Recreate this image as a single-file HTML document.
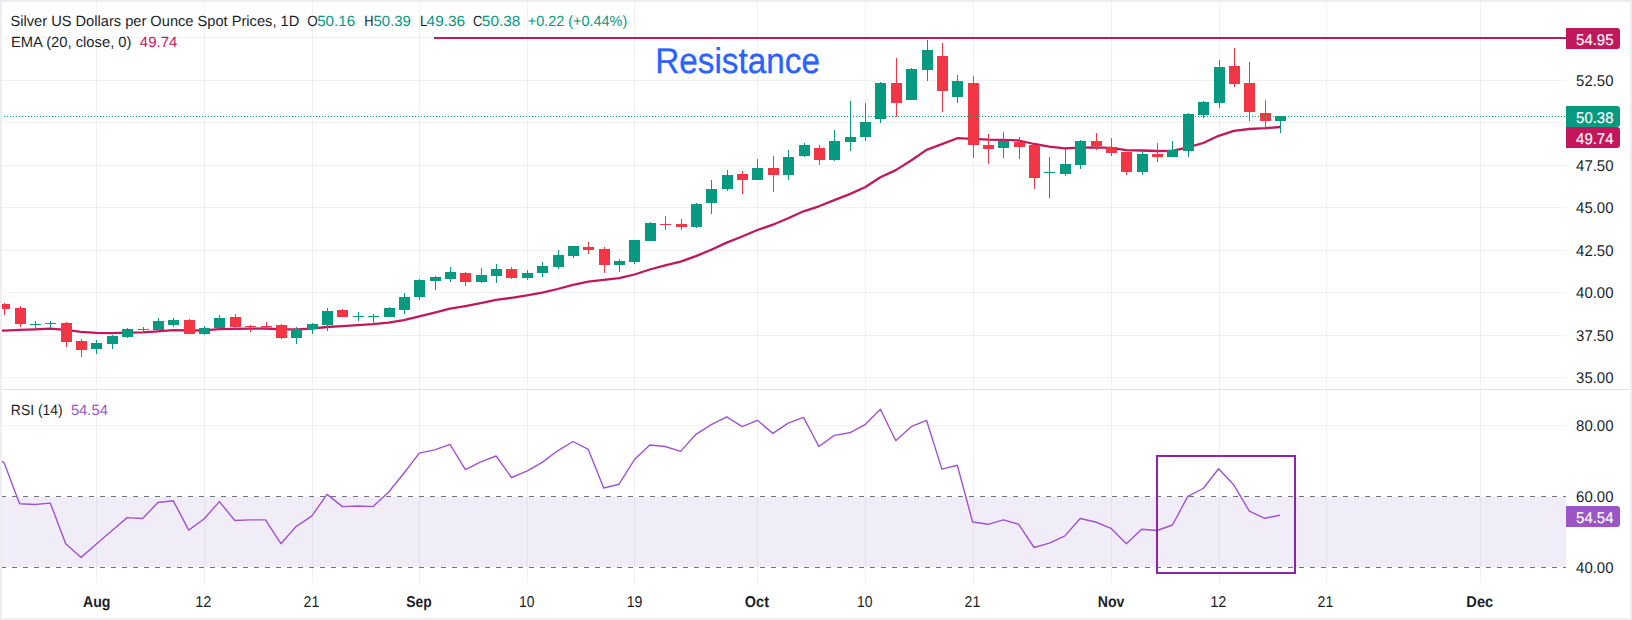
<!DOCTYPE html><html><head><meta charset="utf-8"><style>html,body{margin:0;padding:0;width:1632px;height:620px;overflow:hidden;background:#fff}svg{display:block}text{font-family:"Liberation Sans",sans-serif;text-rendering:geometricPrecision}</style></head><body>
<svg width="1632" height="620" viewBox="0 0 1632 620">
<rect x="0" y="0" width="1632" height="620" fill="#fff"/>
<rect x="2" y="497" width="1564" height="70" fill="rgba(126,87,194,0.11)"/>
<path d="M96.5 2V389M96.5 390V583M204.5 2V389M204.5 390V583M312.5 2V389M312.5 390V583M419.5 2V389M419.5 390V583M527.5 2V389M527.5 390V583M634.5 2V389M634.5 390V583M757.5 2V389M757.5 390V583M865.5 2V389M865.5 390V583M973.5 2V389M973.5 390V583M1111.5 2V389M1111.5 390V583M1219.5 2V389M1219.5 390V583M1326.5 2V389M1326.5 390V583M1480.5 2V389M1480.5 390V583" stroke="rgba(20,60,50,0.063)" stroke-width="1" fill="none"/>
<path d="M2 37.5H1566M2 80.5H1566M2 122.5H1566M2 165.5H1566M2 207.5H1566M2 250.5H1566M2 292.5H1566M2 335.5H1566M2 377.5H1566M2 425.5H1566" stroke="rgba(20,60,50,0.063)" stroke-width="1" fill="none"/>
<path d="M1 496.5H1566M1 567.5H1566" stroke="#70737E" stroke-width="1" stroke-dasharray="5 6" fill="none"/>
<rect x="0" y="389" width="1632" height="1" fill="#E0E3EB"/>
<polyline points="-11,330.9 4.2,330.6 19.6,329.9 35.0,329.3 50.3,328.7 65.7,329.9 81.1,331.8 96.4,332.8 111.8,333.1 127.2,332.7 142.6,332.4 157.9,331.3 173.3,330.2 188.7,330.5 204.0,330.3 219.4,329.1 234.8,328.9 250.2,328.6 265.5,328.5 280.9,329.3 296.3,329.3 311.7,328.7 327.0,327.0 342.4,326.1 357.8,325.1 373.1,324.2 388.5,322.6 403.9,320.2 419.3,316.3 434.6,312.6 450.0,308.7 465.4,306.1 480.7,303.2 496.1,299.9 511.5,297.8 526.9,295.4 542.2,292.6 557.6,289.0 573.0,284.9 588.3,281.6 603.7,279.9 619.1,278.1 634.5,274.5 649.8,269.5 665.2,265.3 680.6,261.6 695.9,256.1 711.3,249.7 726.7,242.6 742.1,236.5 757.4,230.0 772.8,224.7 788.2,218.3 803.5,211.3 818.9,206.3 834.3,200.1 849.7,194.1 865.0,187.2 880.4,177.2 895.8,170.1 911.1,160.5 926.5,149.9 941.9,144.2 957.3,138.2 972.6,138.8 988.0,139.7 1003.4,139.8 1018.7,140.5 1034.1,144.0 1049.5,146.7 1064.9,148.3 1080.2,147.6 1095.6,147.4 1111.0,147.9 1126.3,150.1 1141.7,150.5 1157.1,151.0 1172.5,150.9 1187.8,147.4 1203.2,143.0 1218.6,135.8 1233.9,130.8 1249.3,129.0 1264.7,128.2 1280.1,127.0" stroke="#C2185B" stroke-width="2.3" fill="none" stroke-linejoin="round"/>
<path d="M30 324h11v1h-11zM35 321h1v3h-1zM35 325h1v3h-1zM45 323h11v1h-11zM50 321h1v2h-1zM50 324h1v4h-1zM91 343h11v6h-11zM96 340h1v3h-1zM96 349h1v5h-1zM107 336h11v8h-11zM112 335h1v1h-1zM112 344h1v5h-1zM122 329h11v8h-11zM127 328h1v1h-1zM127 337h1v1h-1zM153 321h11v9h-11zM158 318h1v3h-1zM168 320h11v5h-11zM173 318h1v2h-1zM173 325h1v2h-1zM199 328h11v6h-11zM204 326h1v2h-1zM204 334h1v1h-1zM214 318h11v10h-11zM219 315h1v3h-1zM219 328h1v1h-1zM291 329h11v9h-11zM296 327h1v2h-1zM296 338h1v6h-1zM307 324h11v5h-11zM312 323h1v1h-1zM312 329h1v5h-1zM322 311h11v14h-11zM327 308h1v3h-1zM327 325h1v6h-1zM353 316h11v1h-11zM358 312h1v4h-1zM358 317h1v4h-1zM368 316h11v1h-11zM373 314h1v2h-1zM373 317h1v8h-1zM384 308h11v9h-11zM389 307h1v1h-1zM399 297h11v13h-11zM404 293h1v4h-1zM404 310h1v4h-1zM414 280h11v17h-11zM419 279h1v1h-1zM419 297h1v3h-1zM430 277h11v4h-11zM435 276h1v1h-1zM435 281h1v9h-1zM445 272h11v7h-11zM450 267h1v5h-1zM450 279h1v3h-1zM476 275h11v7h-11zM481 268h1v7h-1zM481 282h1v1h-1zM491 269h11v7h-11zM496 264h1v5h-1zM496 276h1v7h-1zM522 273h11v5h-11zM527 270h1v3h-1zM527 278h1v2h-1zM537 266h11v7h-11zM542 262h1v4h-1zM542 273h1v4h-1zM553 255h11v12h-11zM558 250h1v5h-1zM558 267h1v2h-1zM568 246h11v10h-11zM573 256h1v2h-1zM614 261h11v4h-11zM619 259h1v2h-1zM619 265h1v7h-1zM629 240h11v22h-11zM634 262h1v2h-1zM645 223h11v18h-11zM650 222h1v1h-1zM691 204h11v23h-11zM696 203h1v1h-1zM696 227h1v1h-1zM706 189h11v14h-11zM711 180h1v9h-1zM711 203h1v11h-1zM722 175h11v14h-11zM727 170h1v5h-1zM727 189h1v2h-1zM752 168h11v12h-11zM757 159h1v9h-1zM783 157h11v18h-11zM788 150h1v7h-1zM788 175h1v5h-1zM799 145h11v11h-11zM804 143h1v2h-1zM804 156h1v1h-1zM829 141h11v19h-11zM834 130h1v11h-1zM834 160h1v1h-1zM845 137h11v5h-11zM850 101h1v36h-1zM850 142h1v9h-1zM860 122h11v15h-11zM865 103h1v19h-1zM865 137h1v4h-1zM875 83h11v36h-11zM880 82h1v1h-1zM880 119h1v4h-1zM906 69h11v31h-11zM911 68h1v1h-1zM922 50h11v20h-11zM927 40h1v10h-1zM927 70h1v11h-1zM952 81h11v16h-11zM957 75h1v6h-1zM957 97h1v6h-1zM998 141h11v7h-11zM1003 132h1v9h-1zM1003 148h1v10h-1zM1044 172h11v1h-11zM1049 157h1v15h-1zM1049 173h1v25h-1zM1060 164h11v10h-11zM1065 149h1v15h-1zM1065 174h1v2h-1zM1075 141h11v24h-11zM1080 140h1v1h-1zM1080 165h1v4h-1zM1137 154h11v18h-11zM1142 152h1v2h-1zM1142 172h1v3h-1zM1167 150h11v7h-11zM1172 141h1v9h-1zM1183 114h11v37h-11zM1188 113h1v1h-1zM1188 151h1v6h-1zM1198 102h11v13h-11zM1203 101h1v1h-1zM1203 115h1v3h-1zM1214 67h11v36h-11zM1219 60h1v7h-1zM1219 103h1v5h-1zM1275 116h11v5h-11zM1280 121h1v12h-1z" fill="#089981"/>
<path d="M-1 304h11v5h-11zM4 303h1v1h-1zM4 309h1v6h-1zM15 308h11v16h-11zM20 306h1v2h-1zM20 324h1v3h-1zM61 323h11v19h-11zM66 322h1v1h-1zM66 342h1v5h-1zM76 341h11v9h-11zM81 339h1v2h-1zM81 350h1v7h-1zM138 329h11v1h-11zM143 327h1v2h-1zM143 330h1v3h-1zM184 320h11v14h-11zM189 319h1v1h-1zM230 317h11v10h-11zM235 314h1v3h-1zM235 327h1v2h-1zM245 326h11v1h-11zM250 325h1v1h-1zM250 327h1v5h-1zM261 326h11v1h-11zM266 322h1v4h-1zM266 327h1v2h-1zM276 325h11v13h-11zM281 324h1v1h-1zM281 338h1v1h-1zM337 310h11v7h-11zM342 309h1v1h-1zM460 273h11v9h-11zM465 272h1v1h-1zM465 282h1v4h-1zM506 269h11v9h-11zM511 267h1v2h-1zM511 278h1v1h-1zM583 247h11v3h-11zM588 242h1v5h-1zM588 250h1v4h-1zM599 249h11v16h-11zM604 247h1v2h-1zM604 265h1v8h-1zM660 224h11v1h-11zM665 216h1v8h-1zM665 225h1v5h-1zM676 224h11v3h-11zM681 219h1v5h-1zM681 227h1v3h-1zM737 174h11v6h-11zM742 171h1v3h-1zM742 180h1v14h-1zM768 168h11v7h-11zM773 156h1v12h-1zM773 175h1v17h-1zM814 148h11v12h-11zM819 145h1v3h-1zM819 160h1v5h-1zM891 83h11v20h-11zM896 58h1v25h-1zM896 103h1v14h-1zM937 56h11v35h-11zM942 43h1v13h-1zM942 91h1v21h-1zM968 83h11v62h-11zM973 76h1v7h-1zM973 145h1v13h-1zM983 145h11v4h-11zM988 134h1v11h-1zM988 149h1v15h-1zM1014 142h11v5h-11zM1019 137h1v5h-1zM1019 147h1v12h-1zM1029 145h11v33h-11zM1034 178h1v11h-1zM1091 141h11v5h-11zM1096 133h1v8h-1zM1096 146h1v4h-1zM1106 147h11v6h-11zM1111 138h1v9h-1zM1111 153h1v3h-1zM1121 152h11v20h-11zM1126 172h1v3h-1zM1152 154h11v3h-11zM1157 143h1v11h-1zM1157 157h1v5h-1zM1229 66h11v18h-11zM1234 48h1v18h-1zM1234 84h1v3h-1zM1244 83h11v29h-11zM1249 62h1v21h-1zM1249 112h1v9h-1zM1260 113h11v8h-11zM1265 100h1v13h-1zM1265 121h1v9h-1z" fill="#F23645"/>
<rect x="434" y="37" width="1132" height="2" fill="#C2185B"/>
<polyline points="-11.2,451 4.2,463.0 19.6,503.7 35.0,504.5 50.3,503.1 65.7,543.7 81.1,557.4 96.4,544.0 111.8,530.7 127.2,517.6 142.6,518.5 157.9,502.5 173.3,500.8 188.7,530.1 204.0,519.0 219.4,501.6 234.8,520.5 250.2,519.9 265.5,519.9 280.9,543.7 296.3,526.3 311.7,516.1 327.0,494.4 342.4,506.6 357.8,506.0 373.1,506.6 388.5,492.3 403.9,473.2 419.3,453.1 434.6,449.9 450.0,444.4 465.4,469.7 480.7,461.8 496.1,456.0 511.5,477.5 526.9,471.1 542.2,462.4 557.6,450.8 573.0,441.5 588.3,449.4 603.7,488.0 619.1,484.2 634.5,459.5 649.8,445.0 665.2,446.5 680.6,451.4 695.9,434.3 711.3,424.7 726.7,416.8 742.1,426.7 757.4,420.3 772.8,433.4 788.2,423.2 803.5,417.4 818.9,446.5 834.3,435.4 849.7,432.8 865.0,424.7 880.4,409.3 895.8,440.7 911.1,426.7 926.5,420.3 941.9,469.1 957.3,465.3 972.6,522.0 988.0,524.3 1003.4,519.9 1018.7,524.3 1034.1,547.5 1049.5,543.1 1064.9,535.9 1080.2,518.5 1095.6,522.0 1111.0,528.3 1126.3,543.7 1141.7,529.2 1157.1,530.5 1172.5,525.0 1187.8,496.4 1203.2,488.5 1218.6,468.7 1233.9,485.1 1249.3,511.1 1264.7,518.3 1280.1,515.2" stroke="#A152D2" stroke-width="1.4" fill="none" stroke-linejoin="round"/>
<rect x="1157" y="456" width="138" height="117" stroke="#8E24AA" stroke-width="2" fill="none"/>
<path d="M1 116.5H1566" stroke="#089981" stroke-width="1" stroke-dasharray="1 2" fill="none"/>
<rect x="1566" y="2" width="64" height="387" fill="#fff"/>
<path d="M0 0H1632V620H0Z M2 2V618H1630V2Z" fill="#ECEEF1" fill-rule="evenodd"/>
<text x="10.51" y="26" font-size="14.8" fill="#1A1E29" text-anchor="start" font-weight="normal" textLength="288.72" lengthAdjust="spacingAndGlyphs">Silver US Dollars per Ounce Spot Prices, 1D</text>
<text x="307.19" y="26" font-size="14.8" fill="#1A1E29" text-anchor="start" font-weight="normal" textLength="10.48" lengthAdjust="spacingAndGlyphs">O</text>
<text x="317.17" y="26" font-size="14.8" fill="#089981" text-anchor="start" font-weight="normal" textLength="38.09" lengthAdjust="spacingAndGlyphs">50.16</text>
<text x="364.23" y="26" font-size="14.8" fill="#1A1E29" text-anchor="start" font-weight="normal" textLength="9.26" lengthAdjust="spacingAndGlyphs">H</text>
<text x="373.49" y="26" font-size="14.8" fill="#089981" text-anchor="start" font-weight="normal" textLength="37.45" lengthAdjust="spacingAndGlyphs">50.39</text>
<text x="419.9" y="26" font-size="14.8" fill="#1A1E29" text-anchor="start" font-weight="normal" textLength="7.41" lengthAdjust="spacingAndGlyphs">L</text>
<text x="426.56" y="26" font-size="14.8" fill="#089981" text-anchor="start" font-weight="normal" textLength="38.62" lengthAdjust="spacingAndGlyphs">49.36</text>
<text x="473.03" y="26" font-size="14.8" fill="#1A1E29" text-anchor="start" font-weight="normal" textLength="9.26" lengthAdjust="spacingAndGlyphs">C</text>
<text x="481.86" y="26" font-size="14.8" fill="#089981" text-anchor="start" font-weight="normal" textLength="38.41" lengthAdjust="spacingAndGlyphs">50.38</text>
<text x="527.78" y="26" font-size="14.8" fill="#089981" text-anchor="start" font-weight="normal" textLength="99.47" lengthAdjust="spacingAndGlyphs">+0.22 (+0.44%)</text>
<text x="10.9" y="46.9" font-size="14.8" fill="#1A1E29" text-anchor="start" font-weight="normal" textLength="120.59" lengthAdjust="spacingAndGlyphs">EMA (20, close, 0)</text>
<text x="139.89" y="46.9" font-size="14.8" fill="#C2185B" text-anchor="start" font-weight="normal" textLength="37.44" lengthAdjust="spacingAndGlyphs">49.74</text>
<text x="10.86" y="414.9" font-size="14.8" fill="#1A1E29" text-anchor="start" font-weight="normal" textLength="51.77" lengthAdjust="spacingAndGlyphs">RSI (14)</text>
<text x="70.9" y="414.9" font-size="14.8" fill="#9B55C4" text-anchor="start" font-weight="normal" textLength="37.03" lengthAdjust="spacingAndGlyphs">54.54</text>
<text stroke="#2962FF" stroke-width="0.35" x="655.31" y="73" font-size="35.8" fill="#2962FF" text-anchor="start" font-weight="normal" textLength="164.61" lengthAdjust="spacingAndGlyphs">Resistance</text>
<text x="1576.1" y="86" font-size="15.5" fill="#1A1E29" text-anchor="start" font-weight="normal" textLength="37.37" lengthAdjust="spacingAndGlyphs">52.50</text>
<text x="1576.1" y="171" font-size="15.5" fill="#1A1E29" text-anchor="start" font-weight="normal" textLength="37.37" lengthAdjust="spacingAndGlyphs">47.50</text>
<text x="1576.1" y="213" font-size="15.5" fill="#1A1E29" text-anchor="start" font-weight="normal" textLength="37.37" lengthAdjust="spacingAndGlyphs">45.00</text>
<text x="1576.1" y="256" font-size="15.5" fill="#1A1E29" text-anchor="start" font-weight="normal" textLength="37.37" lengthAdjust="spacingAndGlyphs">42.50</text>
<text x="1576.1" y="298" font-size="15.5" fill="#1A1E29" text-anchor="start" font-weight="normal" textLength="37.37" lengthAdjust="spacingAndGlyphs">40.00</text>
<text x="1576.1" y="341" font-size="15.5" fill="#1A1E29" text-anchor="start" font-weight="normal" textLength="37.37" lengthAdjust="spacingAndGlyphs">37.50</text>
<text x="1576.1" y="383" font-size="15.5" fill="#1A1E29" text-anchor="start" font-weight="normal" textLength="37.37" lengthAdjust="spacingAndGlyphs">35.00</text>
<text x="1576.1" y="431" font-size="15.5" fill="#1A1E29" text-anchor="start" font-weight="normal" textLength="37.37" lengthAdjust="spacingAndGlyphs">80.00</text>
<text x="1576.1" y="502" font-size="15.5" fill="#1A1E29" text-anchor="start" font-weight="normal" textLength="37.37" lengthAdjust="spacingAndGlyphs">60.00</text>
<text x="1576.1" y="573" font-size="15.5" fill="#1A1E29" text-anchor="start" font-weight="normal" textLength="37.37" lengthAdjust="spacingAndGlyphs">40.00</text>
<path d="M1566 28H1617a3 3 0 0 1 3 3V46a3 3 0 0 1 -3 3H1566Z" fill="#C2185B"/>
<text stroke="#fff" stroke-width="0.15" x="1576.1" y="44.5" font-size="15.5" fill="#fff" text-anchor="start" font-weight="normal" textLength="37.37" lengthAdjust="spacingAndGlyphs">54.95</text>
<path d="M1566 106H1617a3 3 0 0 1 3 3V124a3 3 0 0 1 -3 3H1566Z" fill="#089981"/>
<text stroke="#fff" stroke-width="0.15" x="1576.1" y="122.5" font-size="15.5" fill="#fff" text-anchor="start" font-weight="normal" textLength="37.37" lengthAdjust="spacingAndGlyphs">50.38</text>
<path d="M1566 127H1617a3 3 0 0 1 3 3V145a3 3 0 0 1 -3 3H1566Z" fill="#C2185B"/>
<text stroke="#fff" stroke-width="0.15" x="1576.1" y="143.5" font-size="15.5" fill="#fff" text-anchor="start" font-weight="normal" textLength="37.37" lengthAdjust="spacingAndGlyphs">49.74</text>
<path d="M1566 506H1617a3 3 0 0 1 3 3V524a3 3 0 0 1 -3 3H1566Z" fill="#9B55C4"/>
<text stroke="#fff" stroke-width="0.15" x="1576.1" y="522.5" font-size="15.5" fill="#fff" text-anchor="start" font-weight="normal" textLength="37.37" lengthAdjust="spacingAndGlyphs">54.54</text>
<text x="82.99" y="607" font-size="15.6" fill="#1A1E29" text-anchor="start" font-weight="bold" textLength="27.5" lengthAdjust="spacingAndGlyphs">Aug</text>
<text x="195.27" y="607" font-size="15.6" fill="#1A1E29" text-anchor="start" font-weight="normal" textLength="16.17" lengthAdjust="spacingAndGlyphs">12</text>
<text x="303.59" y="607" font-size="15.6" fill="#1A1E29" text-anchor="start" font-weight="normal" textLength="15.73" lengthAdjust="spacingAndGlyphs">21</text>
<text x="406.31" y="607" font-size="15.6" fill="#1A1E29" text-anchor="start" font-weight="bold" textLength="25.43" lengthAdjust="spacingAndGlyphs">Sep</text>
<text x="519.01" y="607" font-size="15.6" fill="#1A1E29" text-anchor="start" font-weight="normal" textLength="15.51" lengthAdjust="spacingAndGlyphs">10</text>
<text x="626.69" y="607" font-size="15.6" fill="#1A1E29" text-anchor="start" font-weight="normal" textLength="15.73" lengthAdjust="spacingAndGlyphs">19</text>
<text x="744.87" y="607" font-size="15.6" fill="#1A1E29" text-anchor="start" font-weight="bold" textLength="24.13" lengthAdjust="spacingAndGlyphs">Oct</text>
<text x="857.01" y="607" font-size="15.6" fill="#1A1E29" text-anchor="start" font-weight="normal" textLength="15.51" lengthAdjust="spacingAndGlyphs">10</text>
<text x="964.59" y="607" font-size="15.6" fill="#1A1E29" text-anchor="start" font-weight="normal" textLength="15.73" lengthAdjust="spacingAndGlyphs">21</text>
<text x="1097.69" y="607" font-size="15.6" fill="#1A1E29" text-anchor="start" font-weight="bold" textLength="26.73" lengthAdjust="spacingAndGlyphs">Nov</text>
<text x="1210.27" y="607" font-size="15.6" fill="#1A1E29" text-anchor="start" font-weight="normal" textLength="16.17" lengthAdjust="spacingAndGlyphs">12</text>
<text x="1317.59" y="607" font-size="15.6" fill="#1A1E29" text-anchor="start" font-weight="normal" textLength="15.73" lengthAdjust="spacingAndGlyphs">21</text>
<text x="1466.36" y="607" font-size="15.6" fill="#1A1E29" text-anchor="start" font-weight="bold" textLength="26.81" lengthAdjust="spacingAndGlyphs">Dec</text>
</svg></body></html>
